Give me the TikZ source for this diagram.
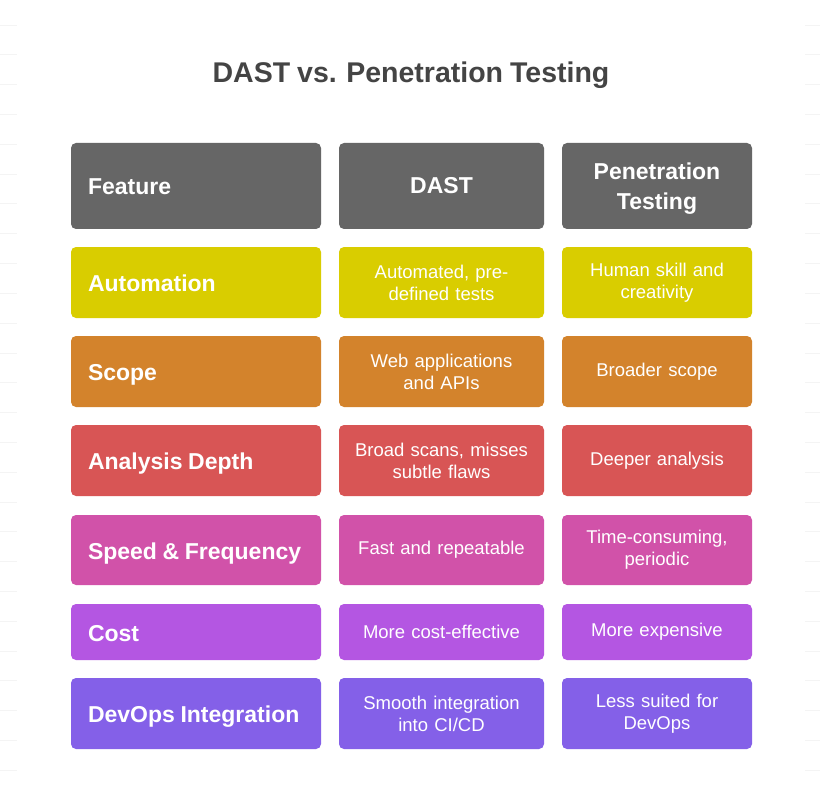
\documentclass[tikz,border=0pt]{standalone}
\usepackage{fontspec}
\setmainfont{Liberation Sans}[WordSpace=0.88]
\definecolor{hdr}{HTML}{666666}
\definecolor{ttl}{HTML}{444444}
\definecolor{cauto}{HTML}{D9CD00}
\definecolor{cscope}{HTML}{D3832C}
\definecolor{cdepth}{HTML}{D85555}
\definecolor{cspeed}{HTML}{D152A9}
\definecolor{ccost}{HTML}{B456E2}
\definecolor{cdev}{HTML}{8460E8}
\definecolor{gridc}{HTML}{F4F4F4}
\tikzset{
  cell/.style={rectangle, rounded corners=5pt, draw=none, text=white, inner ysep=2pt},
  featcell/.style={cell, minimum width=250pt, inner sep=0pt},
  featlabel/.style={anchor=base west, text=white, inner sep=0pt, font=\fontsize{23}{30}\bfseries\selectfont},
  dastcell/.style={cell, minimum width=205pt, text width=189pt, inner xsep=8pt, align=center,
     font=\fontsize{18.5}{22}\selectfont},
  pencell/.style={cell, minimum width=190pt, text width=174pt, inner xsep=8pt, align=center,
     font=\fontsize{18.5}{22}\selectfont},
  hdrfont/.style={font=\fontsize{23}{30}\bfseries\selectfont},
  gridline/.style={draw=gridc, line width=0.6pt}
}
\begin{document}
\begin{tikzpicture}[x=1pt,y=-1pt]
\useasboundingbox[fill=white] (0,0) rectangle (820,789);
\foreach \k in {0,...,25} {
  \draw[gridline] (0,{25+29.8*\k}) -- (17,{25+29.8*\k});
  \draw[gridline] (805,{25+29.8*\k}) -- (820,{25+29.8*\k});
}
\node[font=\fontsize{28.5}{34}\bfseries\selectfont, text=ttl] (title) at (411,75) {DAST vs. Penetration Testing};
% header row 143-229
\node[featcell, fill=hdr, minimum height=86pt] (h1) at (196,186) {};
\node[featlabel] (h1t) at ([xshift=17pt,yshift=-9pt]h1.west) {Feature};
\node[dastcell, fill=hdr, minimum height=86pt, hdrfont] (h2) at (441.5,186) {DAST};
\node[pencell, fill=hdr, minimum height=86pt] (h3) at (657,186) {};
\node[hdrfont, text=white, align=center, inner sep=0pt] (h3t) at ([yshift=-3pt]h3.center) {Penetration\\Testing};
% automation 247-318
\node[featcell, fill=cauto, minimum height=71pt] (a1) at (196,282.5) {};
\node[featlabel] (a1t) at ([xshift=17pt,yshift=-9pt]a1.west) {Automation};
\node[dastcell, fill=cauto, minimum height=71pt] (a2) at (441.5,282.5) {Automated, pre-\\defined tests};
\node[pencell, fill=cauto, minimum height=71pt] (a3) at (657,282.5) {Human skill and\\creativity};
% scope 336-407
\node[featcell, fill=cscope, minimum height=71pt] (s1) at (196,371.5) {};
\node[featlabel] (s1t) at ([xshift=17pt,yshift=-9pt]s1.west) {Scope};
\node[dastcell, fill=cscope, minimum height=71pt] (s2) at (441.5,371.5) {Web applications\\and APIs};
\node[pencell, fill=cscope, minimum height=71pt] (s3) at (657,371.5) {Broader scope};
% depth 425-496
\node[featcell, fill=cdepth, minimum height=71pt] (d1) at (196,460.5) {};
\node[featlabel] (d1t) at ([xshift=17pt,yshift=-9pt]d1.west) {Analysis Depth};
\node[dastcell, fill=cdepth, minimum height=71pt] (d2) at (441.5,460.5) {Broad scans, misses\\subtle flaws};
\node[pencell, fill=cdepth, minimum height=71pt] (d3) at (657,460.5) {Deeper analysis};
% speed 515-585
\node[featcell, fill=cspeed, minimum height=70pt] (f1) at (196,550) {};
\node[featlabel] (f1t) at ([xshift=17pt,yshift=-9pt]f1.west) {Speed \& Frequency};
\node[dastcell, fill=cspeed, minimum height=70pt] (f2) at (441.5,550) {Fast and repeatable};
\node[pencell, fill=cspeed, minimum height=70pt] (f3) at (657,550) {Time-consuming,\\periodic};
% cost 604-660
\node[featcell, fill=ccost, minimum height=56pt] (c1) at (196,632) {};
\node[featlabel] (c1t) at ([xshift=17pt,yshift=-9pt]c1.west) {Cost};
\node[dastcell, fill=ccost, minimum height=56pt] (c2) at (441.5,632) {More cost-effective};
\node[pencell, fill=ccost, minimum height=56pt] (c3) at (657,632) {More expensive};
% devops 678-749
\node[featcell, fill=cdev, minimum height=71pt] (v1) at (196,713.5) {};
\node[featlabel] (v1t) at ([xshift=17pt,yshift=-9pt]v1.west) {DevOps Integration};
\node[dastcell, fill=cdev, minimum height=71pt] (v2) at (441.5,713.5) {Smooth integration\\into CI/CD};
\node[pencell, fill=cdev, minimum height=71pt] (v3) at (657,713.5) {Less suited for\\DevOps};
\end{tikzpicture}
\end{document}
